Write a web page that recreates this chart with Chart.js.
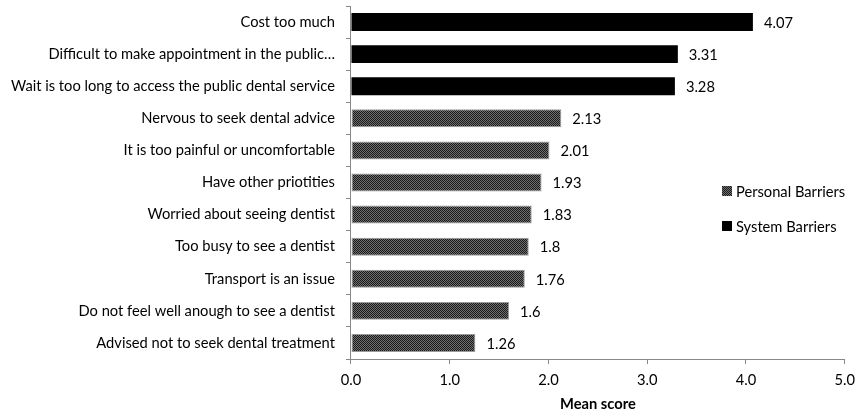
<!DOCTYPE html>
<html>
<head>
<meta charset="utf-8">
<script src="https://cdn.jsdelivr.net/npm/chart.js@4/dist/chart.umd.min.js"></script>
<style>
  body { margin: 0; background: #fff; }
  #wrap { width: 862px; height: 415px; }
</style>
</head>
<body>
<div id="wrap"><canvas id="grafico"></canvas></div>
<script>
const categorias = [
  'Cost too much',
  'Difficult to make appointment in the public\u2026',
  'Wait is too long to access the public dental service',
  'Nervous to seek dental advice',
  'It is too painful or uncomfortable',
  'Have other priotities',
  'Worried about seeing dentist',
  'Too busy to see a dentist',
  'Transport is an issue',
  'Do not feel well anough to see a dentist',
  'Advised not to seek dental treatment'
];
const barrerasSistema = [4.07, 3.31, 3.28, null, null, null, null, null, null, null, null];
const barrerasPersonales = [null, null, null, 2.13, 2.01, 1.93, 1.83, 1.8, 1.76, 1.6, 1.26];
const ticksX = ['0.0', '1.0', '2.0', '3.0', '4.0', '5.0'];

const fuente = "Lato, 'Open Sans', sans-serif";
const tam = 14.7;

function crearPatron() {
  const c = document.createElement('canvas');
  c.width = 2; c.height = 2;
  const p = c.getContext('2d');
  p.fillStyle = '#707070'; p.fillRect(0, 0, 2, 2);
  p.fillStyle = '#1a1a1a';
  p.fillRect(0, 0, 1, 1);
  p.fillRect(1, 1, 1, 1);
  return p.createPattern(c, 'repeat');
}
const patron = crearPatron();

const etiquetas = {
  id: 'etiquetas',
  afterDatasetsDraw(chart) {
    const ctx = chart.ctx;
    ctx.save();
    ctx.font = tam + 'px ' + fuente;
    ctx.fillStyle = '#000';
    ctx.textBaseline = 'middle';
    chart.data.datasets.forEach((ds, i) => {
      chart.getDatasetMeta(i).data.forEach((bar, j) => {
        const v = ds.data[j];
        if (v === null) return;
        ctx.fillText(String(v), bar.x + 11, bar.y + 1);
      });
    });
    // leyenda
    const items = [
      { texto: 'Personal Barriers', fill: patron, y: 191 },
      { texto: 'System Barriers', fill: '#000', y: 226 }
    ];
    items.forEach(it => {
      ctx.fillStyle = it.fill;
      ctx.fillRect(722, it.y - 5, 10, 10);
      ctx.fillStyle = '#000';
      ctx.fillText(it.texto, 736, it.y + 1);
    });
    ctx.restore();
  }
};

new Chart(document.getElementById('grafico').getContext('2d'), {
  type: 'bar',
  data: {
    labels: categorias,
    datasets: [
      {
        label: 'Personal Barriers',
        data: barrerasPersonales,
        backgroundColor: patron,
        borderColor: '#9a9a9a',
        borderWidth: 1,
        borderSkipped: false,
        grouped: false,
        barPercentage: 0.56,
        categoryPercentage: 1
      },
      {
        label: 'System Barriers',
        data: barrerasSistema,
        backgroundColor: '#000',
        grouped: false,
        barPercentage: 0.56,
        categoryPercentage: 1
      }
    ]
  },
  options: {
    indexAxis: 'y',
    responsive: true,
    maintainAspectRatio: false,
    animation: false,
    layout: { padding: { top: 6, right: 13, left: 0, bottom: 0 } },
    plugins: {
      legend: { display: false },
      tooltip: { enabled: false }
    },
    scales: {
      x: {
        min: 0,
        max: 5,
        afterFit(escala) {
          escala.height = 56;
        },
        ticks: {
          stepSize: 1,
          color: '#000',
          font: { family: fuente, size: tam },
          padding: 7,
          callback: (v, i) => ticksX[i]
        },
        grid: {
          drawOnChartArea: false,
          drawTicks: true,
          tickLength: 5,
          color: '#888'
        },
        border: { color: '#888', width: 1 },
        title: {
          display: true,
          text: 'Mean score',
          color: '#000',
          font: { family: fuente, size: tam, weight: 'bold' },
          padding: { top: 4, bottom: 2 }
        }
      },
      y: {
        afterFit(escala) {
          escala.paddingTop = 0;
          escala.paddingBottom = 0;
        },
        ticks: {
          color: '#000',
          font: { family: fuente, size: tam },
          padding: 11,
          autoSkip: false
        },
        grid: {
          offset: true,
          drawOnChartArea: false,
          tickLength: 5,
          color: '#888'
        },
        border: { color: '#888', width: 1 }
      }
    }
  },
  plugins: [etiquetas]
});
</script>
</body>
</html>
